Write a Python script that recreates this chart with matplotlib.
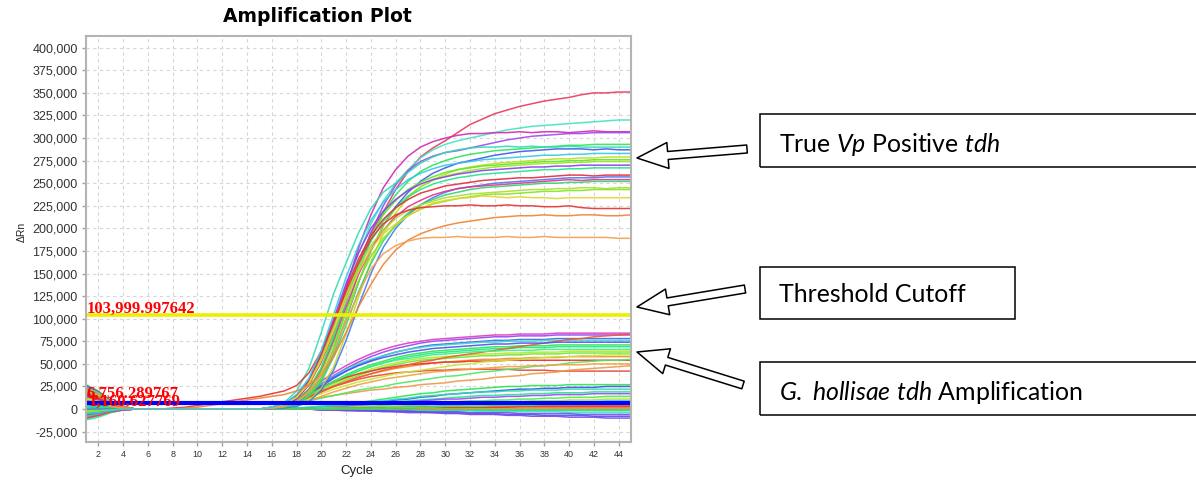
import numpy as np
import matplotlib
matplotlib.use("Agg")
import matplotlib.pyplot as plt
from matplotlib.ticker import FuncFormatter
from matplotlib.patches import Rectangle, FancyArrowPatch, ArrowStyle

plt.rcParams['font.family'] = 'Liberation Sans'
plt.rcParams['mathtext.fontset'] = 'custom'
plt.rcParams['mathtext.rm'] = 'Lato'
plt.rcParams['mathtext.it'] = 'Lato:italic'

# cycles 1..45, delta Rn in thousands
cycles = list(range(1, 46))

# true Vp positive tdh curves
pos_vals = [
    [10,7,3,1,0,0,0,0,0,0,0,0,0,0,0, 1,4,11,27,52,85,122,160,195,218,243,263,279,289,297,306,315,321,327,331,335,338,341,343,345,348,350,350,351,351],
    [-4,-3,-1,0,0,0,0,0,0,0,0,0,0,0,0, 2,6,14,30,58,95,135,172,205,230,250,265,278,287,293,297,300,303,306,309,311,313,314,315,316,317,318,319,320,320],
    [6,4,2,1,0,0,0,0,0,0,0,0,0,0,0, 1,4,11,27,55,92,135,178,215,245,265,280,290,296,300,303,305,305,306,306,307,306,307,307,306,307,308,307,307,307],
    [14,10,5,1,0,0,0,0,0,0,0,0,0,0,0, 1,3,9,22,45,78,118,158,195,225,248,264,274,280,284,286,289,292,295,298,300,302,303,304,305,305,306,306,306,306],
    [-8,-6,-3,-1,0,0,0,0,0,0,0,0,0,0,0, 1,2,6,16,35,67,108,151,188,217,237,252,263,270,275,279,282,284,286,287,288,289,290,291,292,292,293,293,293,293],
    [3,2,1,0,0,0,0,0,0,0,0,0,0,0,0, 2,7,20,45,85,128,162,195,222,240,250,262,272,279,284,287,289,290,290,291,290,291,290,290,291,290,290,290,290,290],
    [18,13,6,2,0,0,0,0,0,0,0,0,0,0,0, 1,2,6,15,33,62,100,140,175,203,224,240,252,261,267,272,275,278,281,283,285,286,287,288,288,288,287,288,287,287],
    [-2,-1,-1,0,0,0,0,0,0,0,0,0,0,0,0, 0,1,3,9,23,47,83,124,163,194,217,234,246,254,260,265,268,270,272,273,274,275,276,277,277,278,278,279,279,279],
    [8,6,3,1,0,0,0,0,0,0,0,0,0,0,0, 1,3,9,22,46,82,123,161,192,215,231,243,251,257,262,265,267,269,270,271,272,273,274,274,275,275,276,276,276,276],
    [12,9,4,1,0,0,0,0,0,0,0,0,0,0,0, 1,2,5,15,33,63,101,141,175,203,222,236,246,253,258,261,264,266,268,269,270,271,272,272,273,273,274,274,274,274],
    [-6,-4,-2,-1,0,0,0,0,0,0,0,0,0,0,0, 2,5,15,32,62,100,139,173,200,219,232,242,249,254,257,260,262,264,265,266,267,268,268,269,269,270,270,270,270,270],
    [4,3,1,0,0,0,0,0,0,0,0,0,0,0,0, 1,3,9,22,45,79,119,156,186,208,223,235,243,249,253,256,258,260,261,262,263,264,265,265,266,266,267,267,267,267],
    [16,12,6,2,0,0,0,0,0,0,0,0,0,0,0, 2,5,14,31,60,96,133,166,192,210,223,232,239,243,247,249,251,253,254,255,256,256,257,258,259,259,258,259,259,259],
    [0,0,0,0,0,0,0,0,0,0,0,0,0,0,0, 0,1,3,8,21,43,76,114,150,179,200,215,226,234,240,244,246,248,250,251,252,253,254,255,256,256,256,257,257,257],
    [-10,-7,-3,-1,0,0,0,0,0,0,0,0,0,0,0, 1,3,8,21,42,75,113,149,177,198,213,224,231,237,241,244,246,247,248,249,250,251,252,253,254,253,254,254,254,254],
    [7,5,2,1,0,0,0,0,0,0,0,0,0,0,0, 1,2,5,14,30,58,93,130,161,186,204,217,226,232,237,240,243,245,246,247,248,249,250,250,251,251,252,252,252,252],
    [20,15,7,2,0,0,0,0,0,0,0,0,0,0,0, 2,5,13,29,56,91,126,157,181,198,211,220,226,230,234,236,238,239,240,241,242,243,243,244,244,245,245,244,245,245],
    [-3,-2,-1,0,0,0,0,0,0,0,0,0,0,0,0, 1,3,8,20,41,72,108,142,169,189,203,214,221,227,230,233,235,237,238,238,239,240,241,241,242,242,243,243,243,243],
    [11,8,4,1,0,0,0,0,0,0,0,0,0,0,0, 2,5,13,28,54,87,121,152,177,194,205,214,222,228,231,233,234,236,235,234,235,234,234,233,234,234,234,234,234,234],
    [15,11,5,1,0,0,0,1,2,4,6,8,10,12,14, 17,20,26,40,64,96,130,162,188,205,215,220,223,224,225,225,226,225,225,226,225,225,224,224,225,223,222,222,222,222],
    [19,14,7,2,0,0,0,0,1,2,4,6,8,10,12, 14,16,20,27,38,58,85,113,138,160,176,187,194,199,203,206,208,210,212,213,214,214,215,214,214,215,215,214,214,215],
    [9,7,3,1,0,0,0,0,0,0,0,0,0,0,0, 1,3,8,18,38,65,97,128,155,172,181,186,189,190,190,191,190,190,190,191,190,190,191,190,190,190,190,190,189,189],
    [-5,-4,-2,0,0,0,0,0,0,0,0,0,0,0,0, 2,6,16,34,65,105,146,181,209,229,243,254,261,266,270,272,274,276,277,278,279,280,281,281,282,282,283,283,283,283],
]
pos_colors = ['#e8385a', '#3ce6c0', '#d228b4', '#a046f0', '#28e65a', '#32dcb4',
              '#3c5ae6', '#bede1e', '#5ae628', '#9be61e', '#8c3cf0', '#1ee68c',
              '#e6283c', '#4678f0', '#e6328c', '#32d26e', '#aade32', '#82e61e',
              '#e6d232', '#e63232', '#f08232', '#f0a050', '#32c8e6']

# G. hollisae tdh curves
hol_vals = [
    [22,16,8,2,0,0,0,0,0,0,0,0,0,0,0, 1,4,11,21,31,40,48,55,61,66,70,73,75,77,78,79,80,81,82,82,83,83,83,84,84,84,84,84,84,84],
    [-7,-5,-2,-1,0,0,0,0,0,0,0,0,0,0,0, 1,3,9,18,28,37,45,52,58,63,67,70,73,75,76,77,78,79,80,80,81,81,81,82,82,82,82,82,82,82],
    [5,4,2,0,0,0,0,0,0,0,0,0,0,0,0, 1,3,8,16,25,34,42,49,54,59,63,66,69,71,72,73,74,75,76,76,77,77,77,78,78,78,78,78,78,78],
    [13,10,5,1,0,0,0,0,0,0,0,0,0,0,0, 1,4,10,18,27,36,44,50,55,59,63,66,68,70,71,72,73,74,74,75,75,75,76,76,76,76,76,76,76,76],
    [-1,-1,0,0,0,0,0,0,0,0,0,0,0,0,0, 1,3,8,15,23,31,38,44,49,53,57,60,62,64,65,66,67,68,69,69,70,70,70,71,71,71,71,71,71,71],
    [17,13,6,2,0,0,0,0,0,0,0,0,0,0,0, 0,2,6,13,21,29,36,42,47,51,55,58,60,62,63,64,65,66,67,67,68,68,68,69,69,69,69,69,69,69],
    [2,1,1,0,0,0,0,0,0,0,0,0,0,0,0, 1,3,7,14,21,28,34,39,44,48,51,54,56,57,58,59,60,61,61,62,62,63,63,63,64,64,64,64,64,64],
    [24,18,8,2,0,0,0,0,0,0,0,0,0,0,0, 0,2,6,12,19,26,32,37,42,46,49,52,54,55,56,57,58,59,59,60,60,61,61,61,62,62,62,62,62,62],
    [-9,-7,-3,-1,0,0,0,0,0,0,0,0,0,0,0, 1,3,7,13,19,25,30,35,39,42,45,47,49,51,52,53,54,55,55,56,56,57,57,57,58,58,58,58,58,58],
    [14,10,5,1,0,0,0,0,0,0,0,0,0,0,0, 1,4,10,17,24,30,35,39,42,45,47,49,50,51,52,52,53,53,53,54,54,54,54,54,54,54,54,54,54,54],
    [6,4,2,1,0,0,0,0,0,0,0,0,0,0,0, 1,3,8,14,20,25,29,33,36,38,40,41,42,43,43,44,44,44,44,44,43,43,43,42,42,42,42,42,42,42],
    [21,16,7,2,0,0,0,0,0,0,0,0,0,0,0, 2,4,7,10,13,15,17,19,21,22,24,25,27,28,29,31,32,33,35,36,37,39,40,41,43,44,45,46,47,48],
    [1,1,0,0,0,0,0,0,0,0,0,0,0,0,0, 1,3,6,9,12,15,18,21,23,25,28,30,32,34,36,37,39,41,42,44,45,47,48,49,51,52,53,54,54,55],
    [-4,-3,-1,0,0,0,0,0,0,0,0,0,0,0,0, 1,3,7,12,17,22,26,30,33,36,39,41,43,45,47,49,50,52,53,54,55,56,57,58,58,59,59,60,60,60],
    [10,7,3,1,0,0,0,0,0,0,0,0,0,0,0, 1,3,7,13,19,25,30,35,39,43,46,49,52,54,57,59,61,63,65,67,69,71,73,75,77,78,80,81,82,83],
    [3,2,1,0,0,0,0,0,0,0,0,0,0,0,0, 1,3,9,17,26,35,42,48,53,57,60,63,65,67,68,69,70,71,72,72,73,73,73,74,74,74,74,74,74,74],
    [18,13,6,2,0,0,0,0,0,0,0,0,0,0,0, 1,3,8,15,23,30,37,42,47,51,54,56,58,60,61,62,63,64,64,65,65,65,66,66,66,66,66,66,66,66],
    [-6,-4,-2,-1,0,0,0,0,0,0,0,0,0,0,0, 1,2,5,9,14,19,23,27,30,33,35,37,39,41,42,43,44,45,46,47,47,48,48,49,49,49,50,50,50,50],
]
hol_colors = ['#dc3cc8', '#9646f0', '#3c64f0', '#3cdcc8', '#28e650', '#1ee68c',
              '#b4e628', '#6ee632', '#f08c32', '#e63228', '#e6463c', '#f09646',
              '#50e664', '#c8e632', '#f05a32', '#5050f0', '#3cf07a', '#f0a03c']

# negative / background wells
base_vals = [
    [27,20,9,3,0,0,0,0,0,0,0,0,0,0,0, 0,1,1,2,3,4,6,7,9,11,13,15,17,18,20,21,22,23,24,25,25,26,26,26,27,27,27,27,27,27],
    [25,19,9,2,0,0,0,0,0,0,0,0,0,0,0, 0,0,1,1,2,3,4,5,7,8,10,11,13,14,16,17,18,19,20,21,22,22,23,23,24,24,24,25,25,25],
    [-12,-9,-4,-1,0,0,0,0,0,0,0,0,0,0,0, 0,1,1,2,3,4,5,6,8,9,11,12,14,15,16,17,18,19,19,20,20,21,21,21,22,22,22,22,22,22],
    [8,6,3,1,0,0,0,0,0,0,0,0,0,0,0, 0,0,1,1,2,3,4,5,6,7,8,9,10,11,12,13,14,15,15,16,16,17,17,18,18,18,19,19,19,19],
    [23,17,8,2,0,0,0,0,0,0,0,0,0,0,0, 0,0,0,1,1,2,3,4,5,6,7,8,9,10,11,11,12,13,13,14,14,15,15,16,16,16,17,17,17,17],
    [-11,-8,-4,-1,0,0,0,0,0,0,0,0,0,0,0, 0,0,0,1,1,2,2,3,3,4,5,5,6,7,7,8,9,9,10,10,11,11,12,12,13,13,13,14,14,14],
    [12,9,4,1,0,0,0,0,0,0,0,0,0,0,0, 0,0,0,0,1,1,1,2,2,3,3,4,4,5,5,6,6,7,7,8,8,9,9,9,10,10,10,11,11,11],
    [5,4,2,0,0,0,0,0,0,0,0,0,0,0,0, 0,0,0,0,1,1,1,1,2,2,2,3,3,3,4,4,5,5,5,6,6,7,7,7,8,8,8,9,9,9],
    [20,15,7,2,0,0,0,0,0,0,0,0,0,0,0, 0,0,0,0,0,1,1,1,1,1,2,2,2,2,2,2,3,3,3,3,3,3,4,4,4,4,4,4,4,4],
    [16,12,6,2,0,0,0,0,0,0,0,0,0,0,0, 0,0,0,0,0,0,0,1,1,1,1,1,1,1,1,1,2,2,2,2,2,2,2,2,2,2,2,2,2,2],
    [-8,-6,-3,-1,0,0,0,0,0,0,0,0,0,0,0, 0,0,0,0,0,0,0,0,0,0,1,1,1,1,1,1,1,1,1,1,1,1,1,1,1,1,1,1,1,1],
    [13,10,5,1,0,0,0,0,0,0,0,0,0,0,0, 0,0,0,0,0,0,1,1,1,1,1,1,2,2,2,2,2,2,2,2,3,3,3,3,3,3,3,3,3,3],
    [2,1,1,0,0,0,0,0,0,0,0,0,0,0,0, 0,0,0,0,0,0,0,0,-1,-1,-1,-1,-1,-1,-1,-1,-1,-1,-2,-2,-2,-2,-2,-2,-2,-2,-2,-2,-2,-2],
    [-10,-7,-3,-1,0,0,0,0,0,0,0,0,0,0,0, 0,0,0,0,0,0,-1,-1,-1,-1,-1,-2,-2,-2,-2,-2,-2,-3,-3,-3,-3,-3,-3,-3,-4,-4,-4,-4,-4,-4],
    [26,19,9,3,0,0,0,0,0,0,0,0,0,0,0, 0,0,0,0,-1,-1,-1,-1,-2,-2,-2,-2,-3,-3,-3,-3,-4,-4,-4,-4,-5,-5,-5,-5,-5,-6,-6,-6,-6,-6],
    [4,3,1,0,0,0,0,0,0,0,0,0,0,0,0, 0,0,0,0,-1,-1,-1,-2,-2,-2,-3,-3,-3,-4,-4,-4,-5,-5,-5,-6,-6,-6,-7,-7,-7,-7,-8,-8,-8,-8],
    [19,14,7,2,0,0,0,0,0,0,0,0,0,0,0, 0,0,0,0,-1,-1,-2,-2,-2,-3,-3,-4,-4,-4,-5,-5,-6,-6,-6,-7,-7,-8,-8,-8,-9,-9,-9,-10,-10,-10],
    [-2,-1,-1,0,0,0,0,0,0,0,0,0,0,0,0, 0,0,0,0,0,0,1,1,1,1,2,2,2,2,3,3,3,3,4,4,4,4,5,5,5,5,6,6,6,6],
    [15,11,5,1,0,0,0,0,0,0,0,0,0,0,0, 0,0,0,0,0,0,0,0,0,0,0,0,0,0,0,0,0,0,0,0,0,0,0,0,0,0,0,0,0,0],
    [9,7,3,1,0,0,0,0,0,0,0,0,0,0,0, 0,0,0,0,0,0,0,0,0,0,0,0,-1,-1,-1,-1,-1,-1,-1,-1,-1,-1,-1,-1,-1,-1,-1,-1,-1,-1],
]
base_colors = ['#28e650', '#3c50e6', '#32dcb4', '#1ee68c', '#a046f0', '#46f046',
               '#aae632', '#3cc8dc', '#f08232', '#f06e28', '#f09646', '#e63c32',
               '#32e68c', '#3ce6d2', '#8c46f0', '#465ae6', '#7846e6', '#50e650',
               '#f08c3c', '#28dc78']

threshold = 103999.997642
baseline_a = 6756.289767
baseline_b = 1160.627769

W, H = 1196, 483
fig = plt.figure(figsize=(W / 100, H / 100), dpi=100)
ax = fig.add_axes([86 / W, 1 - 442 / H, (631 - 86) / W, (442 - 36) / H])

for vals, c in zip(base_vals, base_colors):
    ax.plot(cycles, np.array(vals) * 1000, color=c, lw=1.1, alpha=0.9)
for vals, c in zip(hol_vals, hol_colors):
    ax.plot(cycles, np.array(vals) * 1000, color=c, lw=1.1, alpha=0.9)
for vals, c in zip(pos_vals, pos_colors):
    ax.plot(cycles, np.array(vals) * 1000, color=c, lw=1.1, alpha=0.9)

ax.axhline(threshold, color='#eeee00', lw=2.6)
ax.axhline(baseline_a, color='#0000ff', lw=3.0)

lab_font = dict(family='Liberation Serif', fontweight='bold', color='red', fontsize=12)
ax.text(1.05, 106000, '{:,.6f}'.format(threshold), va='baseline', **lab_font)
ax.text(1.05, 11900, '{:,.6f}'.format(baseline_a), va='baseline', **lab_font)
ax.text(1.2, 3300, '{:,.6f}'.format(baseline_b), va='baseline', **lab_font)

ax.set_xlim(1, 45)
ax.set_ylim(-36500, 413000)
ax.set_xticks(range(2, 45, 2))
ax.set_yticks(range(-25000, 400001, 25000))
ax.yaxis.set_major_formatter(FuncFormatter(lambda v, p: '{:,}'.format(int(v))))
ax.grid(True, color='#d6d6d6', ls=(0, (3, 3)), lw=0.8)
ax.set_axisbelow(True)
ax.tick_params(axis='y', length=3, width=1, color='#a0a0a0', pad=3, labelsize=9, labelcolor='#333333')
ax.tick_params(axis='x', length=3, width=1, color='#a0a0a0', pad=3, labelsize=6.5, labelcolor='#333333')
for s in ax.spines.values():
    s.set_color('#b4b4b4')
    s.set_linewidth(1.5)

fig.text(317 / W, 1 - 17 / H, 'Amplification Plot', ha='center', va='center',
         fontsize=13.5, fontweight='bold', family='DejaVu Sans')
fig.text(357 / W, 1 - 471 / H, 'Cycle', ha='center', va='center', fontsize=9.5, color='#222222')
fig.text(22 / W, 1 - 232 / H, 'ΔRn', rotation=90, ha='center', va='center', fontsize=7.5, color='#222222')

# annotation boxes (figure pixels)
boxes = [(760, 114, 1205, 167), (760, 267, 1015, 319), (760, 362, 1205, 415)]
for x0, y0, x1, y1 in boxes:
    fig.add_artist(Rectangle((x0 / W, 1 - y1 / H), (x1 - x0) / W, (y1 - y0) / H,
                             transform=fig.transFigure, fill=False, ec='black', lw=1.1))

box_font = dict(family='Lato', fontsize=17.9, va='center', ha='left')
fig.text(779 / W, 1 - 145 / H, r'True $\mathit{Vp}$ Positive $\mathit{tdh}$', **box_font)
fig.text(779 / W, 1 - 295 / H, 'Threshold Cutoff', **box_font)
fig.text(779 / W, 1 - 392 / H, r'$\mathit{G.\ hollisae\ tdh}$ Amplification', **box_font)

arrows = [((747, 149), (637, 158)), ((745, 289), (637, 307)), ((743, 385), (637, 352))]
style = ArrowStyle.Simple(head_length=31, head_width=26, tail_width=8)
for (tx, ty), (hx, hy) in arrows:
    fig.add_artist(FancyArrowPatch((tx / W, 1 - ty / H), (hx / W, 1 - hy / H),
                                   transform=fig.transFigure, arrowstyle=style,
                                   mutation_scale=0.72, shrinkA=0, shrinkB=0,
                                   fc='white', ec='black', lw=1.1))

fig.savefig('out.png', dpi=100)
